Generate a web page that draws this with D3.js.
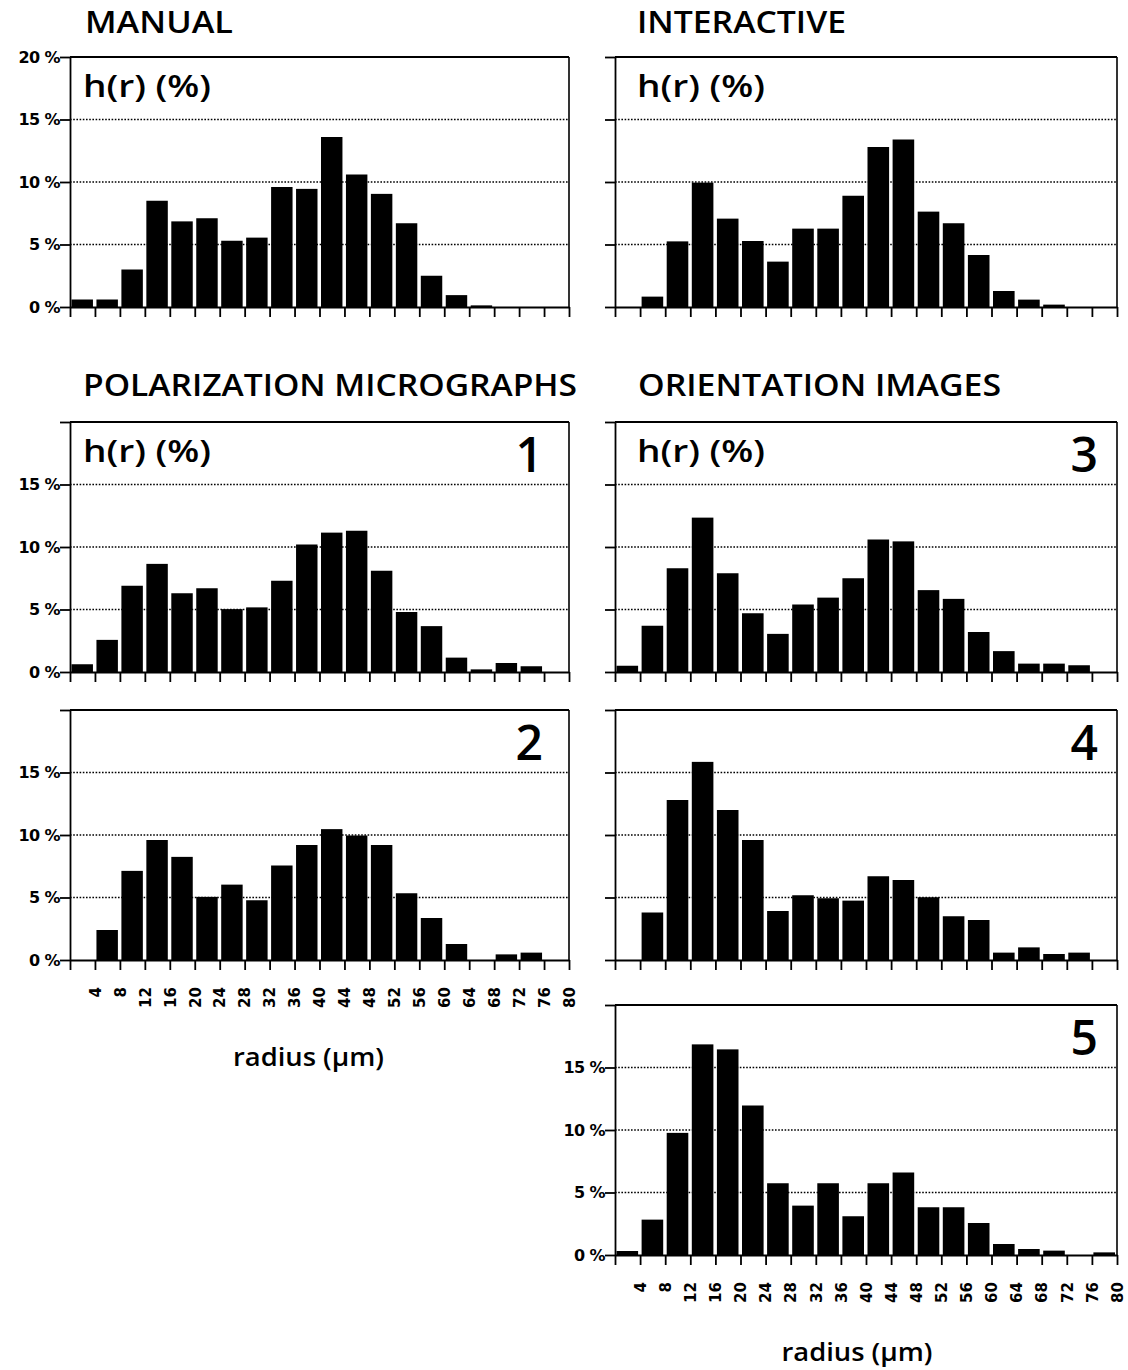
<!DOCTYPE html>
<html>
<head>
<meta charset="utf-8">
<script src="https://cdn.jsdelivr.net/npm/d3@7"></script>
<style>
  body { margin: 0; background: #fff; }
  svg { display: block; }
  .title { font-family: "Open Sans", sans-serif; font-weight: 600; font-size: 31px; }
  .header { font-family: "Open Sans", sans-serif; font-weight: 600; font-size: 31px; }
  .number { font-family: "Open Sans", sans-serif; font-weight: 600; font-size: 48px; }
  .axis-label { font-family: "Open Sans", sans-serif; font-weight: 600; font-size: 26px; }
  .tick text { font-family: "DejaVu Sans", sans-serif; font-weight: bold; fill: #000; }
</style>
</head>
<body>
<svg width="1128" height="1370"></svg>
<script>
// bin edges of radius (µm), each bar covers one 4 µm class
const binEdges = [0, 4, 8, 12, 16, 20, 24, 28, 32, 36, 40, 44, 48, 52, 56, 60, 64, 68, 72, 76, 80]
const radiusTicks = [4, 8, 12, 16, 20, 24, 28, 32, 36, 40, 44, 48, 52, 56, 60, 64, 68, 72, 76, 80]
const percentTicks = [0, 5, 10, 15, 20]

// h(r) in % for each class
const manual = [0.6, 0.6, 3.0, 8.5, 6.85, 7.1, 5.3, 5.55, 9.6, 9.45, 13.6, 10.6, 9.05, 6.7, 2.5, 0.95, 0.13, 0, 0, 0]
const interactive = [0, 0.83, 5.25, 9.95, 7.07, 5.28, 3.63, 6.27, 6.27, 8.9, 12.8, 13.4, 7.63, 6.7, 4.16, 1.28, 0.59, 0.19, 0, 0]
const polarization1 = [0.62, 2.57, 6.9, 8.65, 6.3, 6.7, 5.03, 5.17, 7.3, 10.2, 11.15, 11.3, 8.1, 4.8, 3.67, 1.15, 0.21, 0.72, 0.46, 0]
const polarization2 = [0, 2.4, 7.13, 9.6, 8.25, 5.05, 6.03, 4.78, 7.56, 9.2, 10.47, 9.96, 9.2, 5.34, 3.36, 1.28, 0, 0.45, 0.59, 0]
const orientation3 = [0.5, 3.7, 8.3, 12.35, 7.9, 4.7, 3.05, 5.4, 5.95, 7.5, 10.6, 10.45, 6.55, 5.85, 3.2, 1.67, 0.67, 0.67, 0.54, 0]
const orientation4 = [0, 3.8, 12.8, 15.85, 12.0, 9.6, 3.92, 5.18, 4.94, 4.75, 6.7, 6.4, 5.02, 3.5, 3.2, 0.59, 1.01, 0.48, 0.59, 0]
const orientation5 = [0.32, 2.83, 9.77, 16.85, 16.45, 11.96, 5.74, 3.95, 5.74, 3.1, 5.74, 6.6, 3.82, 3.82, 2.56, 0.88, 0.48, 0.35, 0, 0.21]

const svg = d3.select("svg")

const cols = [{left: 70, right: 569, headerX: 13}, {left: 615, right: 1117, headerX: 22}]
const rowTops = [57, 422, 710, 1005]
const panelHeight = 250

const panels = [
  {values: manual, col: 0, row: 0, yLabels: true, showTop: true, header: "h(r) (%)"},
  {values: interactive, col: 1, row: 0, yLabels: false, header: "h(r) (%)"},
  {values: polarization1, col: 0, row: 1, yLabels: true, header: "h(r) (%)", number: "1"},
  {values: orientation3, col: 1, row: 1, yLabels: false, header: "h(r) (%)", number: "3"},
  {values: polarization2, col: 0, row: 2, yLabels: true, number: "2", xLabels: true},
  {values: orientation4, col: 1, row: 2, yLabels: false, number: "4"},
  {values: orientation5, col: 1, row: 3, yLabels: true, number: "5", xLabels: true}
]

const titles = [
  {text: "MANUAL", x: 85, y: 33, len: 148},
  {text: "INTERACTIVE", x: 637, y: 33, len: 209},
  {text: "POLARIZATION MICROGRAPHS", x: 83, y: 396, len: 494},
  {text: "ORIENTATION IMAGES", x: 638, y: 396, len: 363}
]

svg.selectAll(".title").data(titles)
  .enter().append("text")
  .attr("class", "title")
  .attr("x", d => d.x)
  .attr("y", d => d.y)
  .attr("textLength", d => d.len)
  .attr("lengthAdjust", "spacingAndGlyphs")
  .text(d => d.text)

const drawPanel = p => {
  const {left, right, headerX} = cols[p.col]
  const top = rowTops[p.row]
  const innerWidth = right - left

  const g = svg.append("g")
    .attr("transform", `translate(${left}, ${top})`)

  const xScale = d3.scaleLinear()
    .domain([0, 80])
    .range([0, innerWidth])

  const yScale = d3.scaleLinear()
    .domain([0, 20])
    .range([panelHeight, 0])

  // dotted grid
  g.selectAll(".grid").data([5, 10, 15])
    .enter().append("line")
    .attr("x1", 0)
    .attr("x2", innerWidth)
    .attr("y1", d => yScale(d))
    .attr("y2", d => yScale(d))
    .attr("stroke", "#000")
    .attr("stroke-width", 1.3)
    .attr("stroke-dasharray", "1.6,1.6")

  // bars
  const bars = p.values.map((v, i) => ({x0: binEdges[i], x1: binEdges[i + 1], v}))
  g.selectAll("rect").data(bars.filter(d => d.v > 0))
    .enter().append("rect")
    .attr("x", d => xScale(d.x0) + 1.5)
    .attr("width", d => xScale(d.x1) - xScale(d.x0) - 3.5)
    .attr("y", d => yScale(d.v))
    .attr("height", d => yScale(0) - yScale(d.v))
    .attr("fill", "#000")

  // top and right border
  g.append("line")
    .attr("x1", 0).attr("x2", innerWidth)
    .attr("y1", yScale(20)).attr("y2", yScale(20))
    .attr("stroke", "#000").attr("stroke-width", 2)
  g.append("line")
    .attr("x1", innerWidth).attr("x2", innerWidth)
    .attr("y1", yScale(20)).attr("y2", yScale(0))
    .attr("stroke", "#000").attr("stroke-width", 1.6)

  const yAxis = d3.axisLeft(yScale)
    .tickValues(percentTicks)
    .tickSizeInner(10)
    .tickSizeOuter(0)
    .tickPadding(0)
    .tickFormat(d => {
      if (!p.yLabels) return ""
      if (d === 20 && !p.showTop) return ""
      return `${d} %`
    })

  const yAxisG = g.append("g").call(yAxis)
  yAxisG.selectAll("line, path").attr("stroke", "#000").attr("stroke-width", 1.8)
  yAxisG.selectAll("text").attr("font-size", 16).attr("letter-spacing", "-0.6")

  const xAxis = d3.axisBottom(xScale)
    .tickValues(binEdges)
    .tickSizeInner(10)
    .tickSizeOuter(0)
    .tickFormat(d => (p.xLabels && radiusTicks.includes(d)) ? d : "")

  const xAxisG = g.append("g")
    .attr("transform", `translate(0, ${panelHeight})`)
    .call(xAxis)
  xAxisG.selectAll("line, path").attr("stroke", "#000").attr("stroke-width", 1.8)
  xAxisG.selectAll("text")
    .attr("font-size", 15)
    .attr("text-anchor", "end")
    .attr("dy", "0.35em")
    .attr("transform", "translate(0, 16) rotate(-90)")
    .attr("x", -11)
    .attr("y", 0)

  if (p.header) {
    g.append("text")
      .attr("class", "header")
      .attr("x", headerX)
      .attr("y", 40)
      .attr("textLength", 128)
      .attr("lengthAdjust", "spacingAndGlyphs")
      .text(p.header)
  }
  if (p.number) {
    g.append("text")
      .attr("class", "number")
      .attr("text-anchor", "end")
      .attr("x", innerWidth - (p.col === 0 ? 26 : 19))
      .attr("y", 50)
      .text(p.number)
  }
  if (p.xLabels) {
    g.append("text")
      .attr("class", "axis-label")
      .attr("text-anchor", "middle")
      .attr("x", innerWidth / 2 + (p.col === 0 ? -11 : -9))
      .attr("y", panelHeight + 106)
      .attr("textLength", 151)
      .attr("lengthAdjust", "spacingAndGlyphs")
      .text("radius (µm)")
  }
}

panels.forEach(drawPanel)
</script>
</body>
</html>
